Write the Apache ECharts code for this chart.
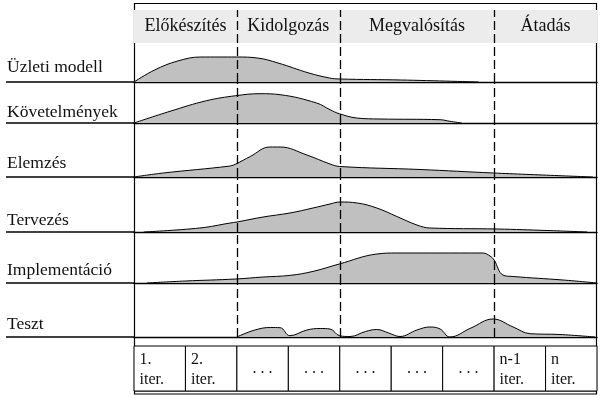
<!DOCTYPE html>
<html>
<head>
<meta charset="utf-8">
<script src="https://cdn.jsdelivr.net/npm/echarts@6/dist/echarts.min.js"></script>
<style>
  html, body { margin: 0; padding: 0; background: #fff; }
  #chart { width: 601px; height: 398px; }
</style>
</head>
<body>
<div id="chart"></div>
<script>
// tevékenységek (sorok) és fázisok
const disciplines = ['Üzleti modell', 'Követelmények', 'Elemzés', 'Tervezés', 'Implementáció', 'Teszt']
const phases = ['Előkészítés', 'Kidolgozás', 'Megvalósítás', 'Átadás']
const phaseBounds = [0, 2, 4, 7, 9]
const iterations = ['1.\niter.', '2.\niter.', '. . .', '. . .', '. . .', '. . .', '. . .', 'n-1\niter.', 'n\niter.']

// ráfordítás görbék: [iteráció, ráfordítás]
const uzletiModell = [[0, 0], [0.4, 12], [0.85, 21], [1.3, 25], [2.0, 25], [2.4, 24], [2.8, 19], [3.4, 9], [3.8, 4], [4.0, 3], [5.2, 2], [6.7, 0]]
const kovetelmenyek = [[0, 0], [0.7, 11.7], [1.41, 22.3], [1.98, 27.3], [2.45, 29.3], [2.84, 28.3], [3.55, 20], [3.81, 13.3], [3.99, 9.3], [4.33, 5], [4.78, 4], [5.95, 3.3], [6.14, 1.7], [6.37, 0]]
const elemzes = [[0, 0], [0.57, 4], [1.87, 11], [1.98, 13], [2.26, 20.5], [2.64, 30], [2.84, 30], [3.36, 22], [3.81, 13], [4.0, 10.5], [5.56, 7.5], [6.99, 4], [8.92, 0]]
const tervezes = [[0.19, 0], [1.28, 4], [1.87, 9], [2.0, 10], [2.51, 15], [3.03, 19], [3.48, 24], [3.81, 28], [4.0, 30], [4.34, 29], [4.72, 24], [5.11, 15.5], [5.5, 7], [5.75, 4], [7.06, 3], [8.03, 1.5], [8.81, 0]]
const implementacio = [[0.25, 0], [1.0, 2], [1.98, 4], [2.51, 6], [3.03, 7.6], [3.48, 11.6], [3.99, 19], [4.72, 29], [5.11, 30], [6.78, 30], [6.92, 27], [7.0, 23], [7.17, 8], [7.37, 6.5], [8.34, 3], [9.0, 0]]
const teszt = [[2.0, 0], [2.35, 7], [2.65, 9.5], [2.84, 9.3], [3.03, 1.3], [3.36, 7], [3.62, 8.5], [3.81, 8], [4.0, 1.2], [4.2, 0.5], [4.5, 5.5], [4.72, 7.5], [4.95, 4], [5.17, 0.5], [5.5, 7], [5.75, 10], [5.95, 8], [6.14, 0], [6.55, 9], [6.98, 18], [7.37, 10], [7.7, 3.3], [8.28, 2.5], [8.96, 0]]
const effort = [uzletiModell, kovetelmenyek, elemzes, tervezes, implementacio, teszt]

// elrendezés
const plotLeft = 134
const plotRight = 4
const rowTop = [43, 82, 123, 177, 232, 283]
const rowBottom = [82, 123, 177, 232, 283, 337]
const rowLabelY = [67, 112, 163, 220, 270, 324]
const serif = '"Liberation Serif", serif'

const chart = echarts.init(document.getElementById('chart'), null, { renderer: 'canvas' })

const grids = []
const xAxes = []
const yAxes = []
const series = []

const dashed = {
  silent: true,
  symbol: 'none',
  label: { show: false },
  lineStyle: { color: '#000', type: [9, 4], width: 1.3 },
  data: phaseBounds.slice(1, -1).map(v => ({ xAxis: v }))
}

const addGrid = (top, height, axisLine) => {
  const idx = grids.length
  grids.push({ left: plotLeft, right: plotRight, top: top, height: height })
  xAxes.push({
    gridIndex: idx, type: 'value', min: 0, max: 9,
    axisLine: { show: axisLine, onZero: false, lineStyle: { color: '#000', width: 1.3 } },
    axisTick: { show: false }, axisLabel: { show: false }, splitLine: { show: false }
  })
  yAxes.push({ gridIndex: idx, type: 'value', min: 0, max: height, show: false })
  return idx
}

// fejléc a fázisokkal
const hIdx = addGrid(10, 33, false)
series.push({
  type: 'line', xAxisIndex: hIdx, yAxisIndex: hIdx, data: [],
  markArea: {
    silent: true,
    itemStyle: { color: '#ececec' },
    label: { position: 'inside', color: '#111', fontFamily: serif, fontSize: 18 },
    data: phases.map((p, i) => [{ name: p, xAxis: phaseBounds[i] }, { xAxis: phaseBounds[i + 1] }])
  },
  markLine: dashed
})

// tevékenység sorok
disciplines.forEach((name, i) => {
  const idx = addGrid(rowTop[i], rowBottom[i] - rowTop[i], true)
  series.push({
    name: name,
    type: 'line', xAxisIndex: idx, yAxisIndex: idx,
    data: effort[i],
    smooth: 0.4,
    symbol: 'none',
    lineStyle: { color: '#000', width: 1 },
    areaStyle: { color: '#c0c0c0', opacity: 1 },
    markLine: dashed
  })
})

// iterációk táblázata
const tIdx = addGrid(346, 45, false)
series.push({
  type: 'line', xAxisIndex: tIdx, yAxisIndex: tIdx, data: [],
  markArea: {
    silent: true,
    itemStyle: { color: '#fff', borderColor: '#000', borderWidth: 1 },
    label: { color: '#111', fontFamily: serif, fontSize: 16, lineHeight: 20 },
    data: iterations.map((t, i) => [
      {
        name: t, xAxis: i,
        label: t.indexOf('iter') >= 0
          ? { position: 'insideTopLeft', distance: 4, padding: [0, 0, 0, 2] }
          : { position: 'inside' }
      },
      { xAxis: i + 1 }
    ])
  }
})

const graphic = []
disciplines.forEach((name, i) => {
  graphic.push({
    type: 'line', silent: true,
    shape: { x1: 6, y1: rowBottom[i], x2: plotLeft, y2: rowBottom[i] },
    style: { stroke: '#000', lineWidth: 1.3 }
  })
  graphic.push({
    type: 'text', silent: true, x: 7, y: rowLabelY[i],
    style: {
      text: name, font: '17.5px "Liberation Serif", serif', fill: '#111',
      align: 'left', verticalAlign: 'middle'
    }
  })
})
// keret
graphic.push({
  type: 'rect', silent: true,
  shape: { x: 134.5, y: 3.5, width: 462, height: 390.5 },
  style: { fill: 'none', stroke: '#000', lineWidth: 1.2 }
})
graphic.push({
  type: 'line', silent: true,
  shape: { x1: 134.5, y1: 391, x2: 596.5, y2: 391 },
  style: { stroke: '#000', lineWidth: 1 }
})

chart.setOption({
  animation: false,
  backgroundColor: '#fff',
  grid: grids,
  xAxis: xAxes,
  yAxis: yAxes,
  series: series,
  graphic: graphic
})
</script>
</body>
</html>
